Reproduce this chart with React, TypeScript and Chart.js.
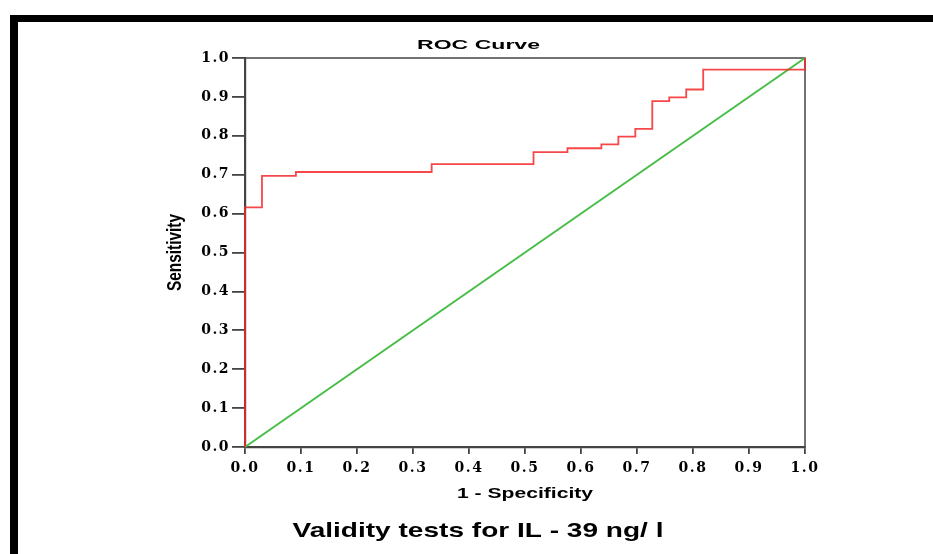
import React, { useEffect, useRef } from "react";
import { Chart, registerables } from "chart.js";

Chart.register(...registerables);

// ROC curve corner points (1 - specificity, sensitivity)
const falsePositiveRate = [0, 0, 0.0303, 0.0909, 0.3333, 0.5152, 0.5758, 0.6364, 0.6667, 0.697, 0.7273, 0.7576, 0.7879, 0.8182, 1.0];
const truePositiveRate = [0, 0.616, 0.697, 0.707, 0.727, 0.758, 0.768, 0.778, 0.798, 0.818, 0.889, 0.899, 0.919, 0.97, 1.0];

// Reference diagonal
const diagonalX = [0, 1];
const diagonalY = [0, 1];

const tickValues = [0, 0.1, 0.2, 0.3, 0.4, 0.5, 0.6, 0.7, 0.8, 0.9, 1.0];
const tickLabels = ["0.0", "0.1", "0.2", "0.3", "0.4", "0.5", "0.6", "0.7", "0.8", "0.9", "1.0"];

const chartTitle = "ROC Curve";
const xAxisTitle = "1 - Specificity";
const yAxisTitle = "Sensitivity";
const captionText = "Validity tests for IL - 39 ng/ l";

function drawText(
  ctx: CanvasRenderingContext2D,
  text: string,
  x: number,
  y: number,
  font: string,
  width: number,
  yScale: number,
  angle: number
) {
  ctx.save();
  (ctx as any).letterSpacing = "0px";
  ctx.font = font;
  const w = ctx.measureText(text).width;
  ctx.translate(x, y);
  ctx.rotate(angle);
  ctx.scale(width / w, yScale);
  ctx.textAlign = "center";
  ctx.textBaseline = "alphabetic";
  ctx.fillStyle = "#000";
  ctx.fillText(text, 0, 0);
  ctx.restore();
}

const decorPlugin = {
  id: "decor",
  beforeDraw(chart: any) {
    const ctx = chart.ctx as CanvasRenderingContext2D;
    ctx.save();
    ctx.fillStyle = "#fff";
    ctx.fillRect(0, 0, chart.width, chart.height);
    ctx.fillStyle = "#000";
    ctx.fillRect(10, 15, chart.width - 10, 7);
    ctx.fillRect(10, 15, 8, chart.height - 15);
    ctx.restore();
    (ctx as any).letterSpacing = "1.5px";
  },
  beforeDatasetsDraw(chart: any) {
    const ctx = chart.ctx as CanvasRenderingContext2D;
    const a = chart.chartArea;
    ctx.save();
    ctx.strokeStyle = "#444";
    ctx.lineWidth = 1.5;
    ctx.beginPath();
    ctx.moveTo(a.left, a.top);
    ctx.lineTo(a.right, a.top);
    ctx.lineTo(a.right, a.bottom);
    ctx.stroke();
    ctx.restore();
  },
  afterDraw(chart: any) {
    const ctx = chart.ctx as CanvasRenderingContext2D;
    (ctx as any).letterSpacing = "0px";
    const a = chart.chartArea;
    drawText(ctx, chartTitle, 478.5, 49, "bold 13px 'Liberation Sans', Arial, sans-serif", 123, 1.05, 0);
    drawText(ctx, xAxisTitle, (a.left + a.right) / 2, 498, "bold 14px 'Liberation Sans', Arial, sans-serif", 136, 1, 0);
    drawText(ctx, yAxisTitle, 181, (a.top + a.bottom) / 2, "bold 14px 'Liberation Sans', Arial, sans-serif", 77, 1.4, -Math.PI / 2);
    drawText(ctx, captionText, 478, 537, "bold 21px 'Liberation Sans', Arial, sans-serif", 371, 1, 0);
  },
};

const tickFont = { family: "'DejaVu Serif', serif", weight: "bold" as const, size: 14 };

export default function App() {
  const canvasRef = useRef<HTMLCanvasElement | null>(null);

  useEffect(() => {
    const canvas = canvasRef.current;
    if (!canvas) return;
    const chart = new Chart(canvas, {
      type: "scatter",
      data: {
        datasets: [
          {
            label: "ROC",
            data: falsePositiveRate.map((x, i) => ({ x, y: truePositiveRate[i] })),
            showLine: true,
            stepped: "before",
            borderColor: "rgba(245,40,40,0.85)",
            borderWidth: 1.8,
            pointRadius: 0,
            clip: false,
          } as any,
          {
            label: "Reference",
            data: diagonalX.map((x, i) => ({ x, y: diagonalY[i] })),
            showLine: true,
            borderColor: "rgb(70,190,70)",
            borderWidth: 2,
            pointRadius: 0,
            clip: false,
          } as any,
        ],
      },
      options: {
        animation: false,
        responsive: false,
        layout: { padding: { top: 58, right: 128, left: 0, bottom: 0 } },
        plugins: { legend: { display: false }, tooltip: { enabled: false }, title: { display: false } },
        scales: {
          x: {
            type: "linear",
            min: 0,
            max: 1,
            afterBuildTicks: (s: any) => {
              s.ticks = tickValues.map((v) => ({ value: v }));
            },
            afterFit: (s: any) => {
              s.height = 107;
            },
            ticks: {
              callback: (_v: any, i: number) => tickLabels[i],
              font: tickFont,
              color: "#000",
              padding: 6,
              maxRotation: 0,
              autoSkip: false,
            },
            grid: { display: true, drawOnChartArea: false, drawTicks: true, tickLength: 7, color: "#444", lineWidth: 1.8 },
            border: { display: true, color: "#444", width: 2.2 },
          },
          y: {
            type: "linear",
            min: 0,
            max: 1,
            afterBuildTicks: (s: any) => {
              s.ticks = tickValues.map((v) => ({ value: v }));
            },
            afterFit: (s: any) => {
              s.width = 245;
            },
            ticks: {
              callback: (_v: any, i: number) => tickLabels[i],
              font: tickFont,
              color: "#000",
              padding: 2,
              autoSkip: false,
            },
            grid: { display: true, drawOnChartArea: false, drawTicks: true, tickLength: 13, color: "#444", lineWidth: 1.8 },
            border: { display: true, color: "#444", width: 2.2 },
          },
        },
      },
      plugins: [decorPlugin],
    });
    return () => chart.destroy();
  }, []);

  return (
    <div style={{ position: "fixed", left: 0, top: 0, width: 933, height: 554 }}>
      <canvas ref={canvasRef} width={933} height={554} style={{ display: "block", width: 933, height: 554 }} />
    </div>
  );
}
